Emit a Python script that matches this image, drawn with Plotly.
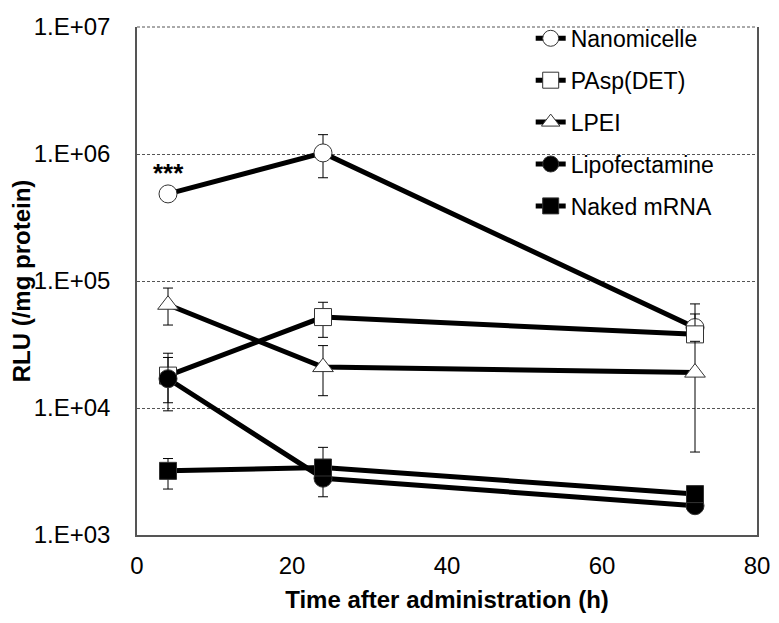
import plotly.graph_objects as go

time_h = [4, 24, 72]

series_names = ["Nanomicelle", "PAsp(DET)", "LPEI", "Lipofectamine", "Naked mRNA"]
nanomicelle = [4.85e5, 1.02e6, 4.3e4]
nanomicelle_err_up = [0, 4.0e5, 2.3e4]
nanomicelle_err_dn = [0, 3.7e5, 0]

pasp = [1.8e4, 5.2e4, 3.8e4]
pasp_err_up = [0.9e4, 1.6e4, 1.7e4]
pasp_err_dn = [0.85e4, 1.6e4, 0]

lpei = [6.5e4, 2.1e4, 1.9e4]
lpei_err_up = [2.3e4, 1.0e4, 1.45e4]
lpei_err_dn = [2.0e4, 0.85e4, 1.45e4]

lipo = [1.7e4, 2.8e3, 1.7e3]
lipo_err_up = [0.8e4, 0, 0]
lipo_err_dn = [0.6e4, 0.8e3, 0]

naked = [3.2e3, 3.4e3, 2.1e3]
naked_err_up = [0.8e3, 1.5e3, 0]
naked_err_dn = [0.9e3, 0, 0]

y_tickvals = [1e3, 1e4, 1e5, 1e6, 1e7]
y_ticktext = ["1.E+03", "1.E+04", "1.E+05", "1.E+06", "1.E+07"]
x_tickvals = [0, 20, 40, 60, 80]

FONT = "Liberation Sans, Arial, sans-serif"

styles = [
    dict(symbol="circle", color="white", size=18),
    dict(symbol="square", color="white", size=17),
    dict(symbol="triangle-up", color="white", size=18),
    dict(symbol="circle", color="black", size=18),
    dict(symbol="square", color="black", size=17),
]
data = [
    (nanomicelle, nanomicelle_err_up, nanomicelle_err_dn),
    (pasp, pasp_err_up, pasp_err_dn),
    (lpei, lpei_err_up, lpei_err_dn),
    (lipo, lipo_err_up, lipo_err_dn),
    (naked, naked_err_up, naked_err_dn),
]

fig = go.Figure()
for i, (name, (vals, eu, ed), st) in enumerate(zip(series_names, data, styles)):
    fig.add_trace(go.Scatter(
        x=time_h, y=vals, name=name, mode="lines+markers",
        legendgroup=f"g{i}",
        line=dict(color="black", width=5),
        marker=dict(symbol=st["symbol"], size=st["size"], color=st["color"],
                    line=dict(color="#333333", width=1)),
        error_y=dict(type="data", symmetric=False, array=eu, arrayminus=ed,
                     color="black", thickness=1, width=5),
    ))

fig.add_annotation(x=4, y=5.85, xref="x", yref="y", text="<b>***</b>",
                   showarrow=False, font=dict(size=26, color="black", family=FONT))

# dashed top border (1.E+07 gridline)
fig.add_shape(type="line", xref="paper", yref="paper", x0=0, x1=1, y0=1, y1=1,
              line=dict(color="#555555", width=1, dash="3px,2px"))

# the page body has an 8px margin, so the figure is 8px smaller than the window
fig.update_layout(
    width=771, height=615,
    margin=dict(l=127, r=22, t=5, b=88),
    paper_bgcolor="white", plot_bgcolor="white",
    font=dict(family=FONT, color="black", size=24),
    legend=dict(x=0.635, y=1.02, xanchor="left", yanchor="top",
                font=dict(size=23), bgcolor="rgba(0,0,0,0)",
                tracegroupgap=9, itemwidth=30),
    showlegend=True,
)
fig.update_xaxes(range=[0, 80], tickvals=x_tickvals, showgrid=False,
                 showline=True, linecolor="#555555", linewidth=1.5, mirror=False,
                 ticks="", tickfont=dict(size=24), ticklabelstandoff=8,
                 ticklabeloverflow="allow",
                 title=dict(text="<b>Time after administration (h)</b>", font=dict(size=24), standoff=14),
                 zeroline=False)
fig.update_yaxes(type="log", range=[3, 7], tickvals=y_tickvals, ticktext=y_ticktext,
                 showgrid=True, gridcolor="#555555", griddash="3px,2px", gridwidth=1,
                 showline=True, linecolor="#555555", linewidth=1.5, mirror=True,
                 ticks="", tickfont=dict(size=24), ticklabelstandoff=20,
                 ticklabeloverflow="allow",
                 title=dict(text="<b>RLU (/mg protein)</b>", font=dict(size=24), standoff=4),
                 zeroline=False)

fig.write_html("out.html")
